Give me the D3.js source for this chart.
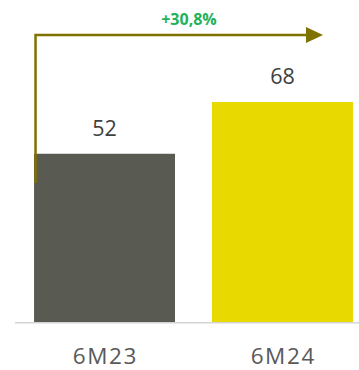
<!DOCTYPE html>
<html><head><meta charset="utf-8">
<script src="https://cdn.jsdelivr.net/npm/d3@7"></script>
<style>body{margin:0;background:#fff}svg{display:block}</style>
</head><body>
<script>
const categories = ["6M23", "6M24"];
const values = [52, 68];
const valueLabels = ["52", "68"];
const growthLabel = "+30,8%";
const colors = ["#595a52", "#e8d900"];

const W = 359, H = 370;
const svg = d3.select("body").append("svg").attr("width", W).attr("height", H);
const font = "'Open Sans', sans-serif";

const x = d3.scaleBand().domain(categories).range([15, 372]).paddingInner(0.208).paddingOuter(0.107);
const y = d3.scaleLinear().domain([0, 68]).range([322, 102]);

svg.selectAll("rect.bar").data(values).join("rect").attr("class", "bar")
  .attr("x", (d, i) => x(categories[i])).attr("width", x.bandwidth())
  .attr("y", d => y(d)).attr("height", d => y(0) - y(d))
  .attr("fill", (d, i) => colors[i]);

svg.append("line").attr("x1", 15).attr("x2", 359).attr("y1", y(0) + 0.8).attr("y2", y(0) + 0.8)
  .attr("stroke", "#d4d4d4").attr("stroke-width", 1.6);

svg.selectAll("text.val").data(values).join("text").attr("class", "val")
  .attr("x", (d, i) => x(categories[i]) + x.bandwidth() / 2)
  .attr("y", d => y(d) - 18)
  .attr("text-anchor", "middle").attr("font-family", font).attr("font-size", 21.5)
  .attr("fill", "#404040").text((d, i) => valueLabels[i]);

svg.selectAll("text.cat").data(categories).join("text").attr("class", "cat")
  .attr("x", d => x(d) + x.bandwidth() / 2 + 0.8).attr("y", 364)
  .attr("text-anchor", "middle").attr("font-family", font).attr("font-size", 22.5)
  .attr("letter-spacing", 1.6)
  .attr("fill", "#595959").text(d => d);

// growth arrow
const ax = x(categories[0]) + 1.5;
const arrowY = 35;
const olive = "#7f7200";
svg.append("path").attr("d", `M${ax},183 L${ax},${arrowY} L308,${arrowY}`)
  .attr("fill", "none").attr("stroke", olive).attr("stroke-width", 2.5);
svg.append("path").attr("d", `M306,${arrowY - 8} L323,${arrowY} L306,${arrowY + 8} Z`).attr("fill", olive);

svg.append("text").attr("x", 189).attr("y", 25).attr("text-anchor", "middle")
  .attr("font-family", font).attr("font-weight", "bold").attr("font-size", 16)
  .attr("fill", "#1fb25a").text(growthLabel);
</script>
</body></html>
